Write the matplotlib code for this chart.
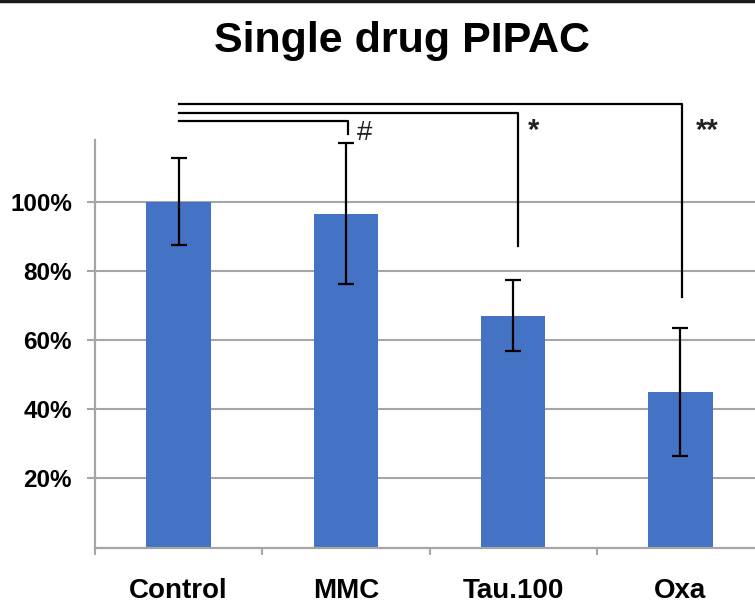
import matplotlib
matplotlib.use("Agg")
import matplotlib.pyplot as plt
from matplotlib.lines import Line2D

categories = ["Control", "MMC", "Tau.100", "Oxa"]
values = [100.0, 96.5, 67.0, 45.0]
errors = [12.5, 20.3, 10.3, 18.5]
yticks = [20, 40, 60, 80, 100]
ytick_labels = ["20%", "40%", "60%", "80%", "100%"]

# significance brackets: (target index, bracket height, drop-to level, label)
sig_targets = [1, 2, 3]
sig_heights = [123.2, 125.7, 128.2]
sig_drop = [119.6, 87.2, 72.5]
sig_labels = ["#", "*", "**"]

plt.rcParams['font.family'] = ['Liberation Sans', 'DejaVu Sans']

fig = plt.figure(figsize=(7.55, 6.03), dpi=100)
ax = fig.add_axes([95/755, (603-547.7)/603, (764-95)/755, (547.7-140)/603])

bar_color = "#4472C4"
grid_color = "#A6A6A6"

x = list(range(len(categories)))
ax.bar(x, values, width=0.385, color=bar_color, zorder=2)
ax.errorbar(x, values, yerr=errors, fmt="none", ecolor="black",
            elinewidth=1.6, capsize=5.8, capthick=1.6, zorder=3)

ax.set_xlim(-0.5, 3.5)
ax.set_ylim(0, 117.8)
ax.set_yticks(yticks)
ax.set_yticklabels(ytick_labels, fontsize=17.5, fontweight="bold")
ax.yaxis.grid(True, color=grid_color, linewidth=1.5, zorder=0)
ax.set_axisbelow(True)

ax.set_xticks([i + 0.5 for i in range(-1, len(categories))])
ax.set_xticklabels([])
ax.set_xticks(x, minor=True)
ax.set_xticklabels(categories, minor=True, fontsize=20, fontweight="bold")
ax.tick_params(axis="x", which="minor", length=0, pad=21.5)
ax.tick_params(axis="x", which="major", length=5, width=1.5, color=grid_color, direction="out")
ax.tick_params(axis="y", length=6, width=1.5, color=grid_color, direction="out", pad=10.5)

for s in ["top", "right"]:
    ax.spines[s].set_visible(False)
for s in ["left", "bottom"]:
    ax.spines[s].set_color(grid_color)
    ax.spines[s].set_linewidth(1.6)

# brackets
offsets = {1: 0.01, 2: 0.03, 3: 0.01}
label_dx = {1: 0.11, 2: 0.12, 3: 0.16}
label_y = {1: 119.7, 2: 120.5, 3: 120.5}
label_size = {1: 20, 2: 21, 3: 21}
for t, h, d, lab in zip(sig_targets, sig_heights, sig_drop, sig_labels):
    xe = t + offsets[t]
    ax.plot([0, xe, xe], [h, h, d], color="black", linewidth=1.6,
            clip_on=False, zorder=4)
    ax.text(t + label_dx[t], label_y[t], lab, ha="center", va="center",
            fontsize=label_size[t], fontweight="bold" if lab != "#" else "normal",
            color="#222222", clip_on=False)

fig.text(402/755, 1 - 41/603, "Single drug PIPAC", ha="center", va="center",
         fontsize=31, fontweight="bold")

fig.add_artist(Line2D([0, 1], [1 - 1/603, 1 - 1/603], color="#1a1a1a",
                      linewidth=2.5, transform=fig.transFigure))

fig.savefig("out.png", dpi=100)
